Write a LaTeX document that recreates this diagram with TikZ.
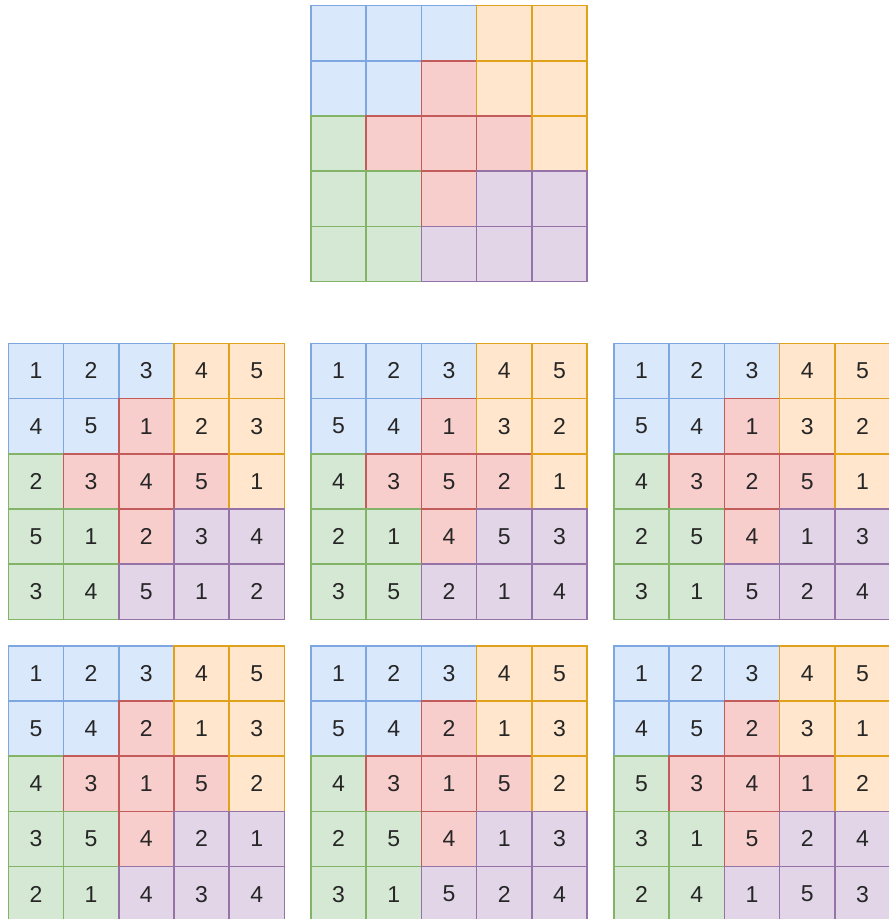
\documentclass[tikz,border=0pt]{standalone}
\usepackage{fontspec}
\setmainfont{Liberation Sans}
\usepackage{tikz}
\usetikzlibrary{positioning}

\definecolor{bluefill}{HTML}{DAE8FC}
\definecolor{blueline}{HTML}{7EA6E0}
\definecolor{orgfill}{HTML}{FFE6CC}
\definecolor{orgline}{HTML}{DFA21A}
\definecolor{redfill}{HTML}{F8CECC}
\definecolor{redline}{HTML}{C45B5B}
\definecolor{grnfill}{HTML}{D5E8D4}
\definecolor{grnline}{HTML}{82B366}
\definecolor{purfill}{HTML}{E1D5E7}
\definecolor{purline}{HTML}{9673A6}

% region of every cell, row by row
\def\regmap{{"regB","regB","regB","regO","regO",
             "regB","regB","regR","regO","regO",
             "regG","regR","regR","regR","regO",
             "regG","regG","regR","regP","regP",
             "regG","regG","regP","regP","regP"}}

\begin{document}
\begin{tikzpicture}[x=1pt, y=-1pt, font=\fontsize{23}{27}\selectfont,
    cell/.style={draw, line width=1.6pt, minimum size=55.2pt, inner sep=0pt, outer sep=0pt, text=black!85},
    regB/.style={cell, fill=bluefill, draw=blueline},
    regO/.style={cell, fill=orgfill, draw=orgline},
    regR/.style={cell, fill=redfill, draw=redline},
    regG/.style={cell, fill=grnfill, draw=grnline},
    regP/.style={cell, fill=purfill, draw=purline}]

\useasboundingbox (0,0) rectangle (889,919);

% ── TOP: the regions ─────────────────────────────────────────────
\begin{scope}[shift={(311,5.5)}]
    \foreach \r in {1,...,5}
      \foreach \c in {1,...,5} {
        \pgfmathsetmacro{\reg}{\regmap[int(5*(\r-1)+\c-1)]}
        \node[\reg] (T-\r-\c) at ({(\c-0.5)*55.2}, {(\r-0.5)*55.2}) {};
      }
\end{scope}

% ── MIDDLE ROW ───────────────────────────────────────────────────
\begin{scope}[shift={(8.3,343.3)}]
    \foreach \row [count=\r] in {{1,2,3,4,5},{4,5,1,2,3},{2,3,4,5,1},{5,1,2,3,4},{3,4,5,1,2}}
      \foreach \n [count=\c] in \row {
        \pgfmathsetmacro{\reg}{\regmap[int(5*(\r-1)+\c-1)]}
        \node[\reg] (A-\r-\c) at ({(\c-0.5)*55.2}, {(\r-0.5)*55.2}) {\n};
      }
\end{scope}

\begin{scope}[shift={(311,343.3)}]
    \foreach \row [count=\r] in {{1,2,3,4,5},{5,4,1,3,2},{4,3,5,2,1},{2,1,4,5,3},{3,5,2,1,4}}
      \foreach \n [count=\c] in \row {
        \pgfmathsetmacro{\reg}{\regmap[int(5*(\r-1)+\c-1)]}
        \node[\reg] (B-\r-\c) at ({(\c-0.5)*55.2}, {(\r-0.5)*55.2}) {\n};
      }
\end{scope}

\begin{scope}[shift={(614,343.3)}]
    \foreach \row [count=\r] in {{1,2,3,4,5},{5,4,1,3,2},{4,3,2,5,1},{2,5,4,1,3},{3,1,5,2,4}}
      \foreach \n [count=\c] in \row {
        \pgfmathsetmacro{\reg}{\regmap[int(5*(\r-1)+\c-1)]}
        \node[\reg] (C-\r-\c) at ({(\c-0.5)*55.2}, {(\r-0.5)*55.2}) {\n};
      }
\end{scope}

% ── BOTTOM ROW ───────────────────────────────────────────────────
\begin{scope}[shift={(8.3,645.7)}]
    \foreach \row [count=\r] in {{1,2,3,4,5},{5,4,2,1,3},{4,3,1,5,2},{3,5,4,2,1},{2,1,4,3,4}}
      \foreach \n [count=\c] in \row {
        \pgfmathsetmacro{\reg}{\regmap[int(5*(\r-1)+\c-1)]}
        \node[\reg] (D-\r-\c) at ({(\c-0.5)*55.2}, {(\r-0.5)*55.2}) {\n};
      }
\end{scope}

\begin{scope}[shift={(311,645.7)}]
    \foreach \row [count=\r] in {{1,2,3,4,5},{5,4,2,1,3},{4,3,1,5,2},{2,5,4,1,3},{3,1,5,2,4}}
      \foreach \n [count=\c] in \row {
        \pgfmathsetmacro{\reg}{\regmap[int(5*(\r-1)+\c-1)]}
        \node[\reg] (E-\r-\c) at ({(\c-0.5)*55.2}, {(\r-0.5)*55.2}) {\n};
      }
\end{scope}

\begin{scope}[shift={(614,645.7)}]
    \foreach \row [count=\r] in {{1,2,3,4,5},{4,5,2,3,1},{5,3,4,1,2},{3,1,5,2,4},{2,4,1,5,3}}
      \foreach \n [count=\c] in \row {
        \pgfmathsetmacro{\reg}{\regmap[int(5*(\r-1)+\c-1)]}
        \node[\reg] (F-\r-\c) at ({(\c-0.5)*55.2}, {(\r-0.5)*55.2}) {\n};
      }
\end{scope}

\end{tikzpicture}
\end{document}
